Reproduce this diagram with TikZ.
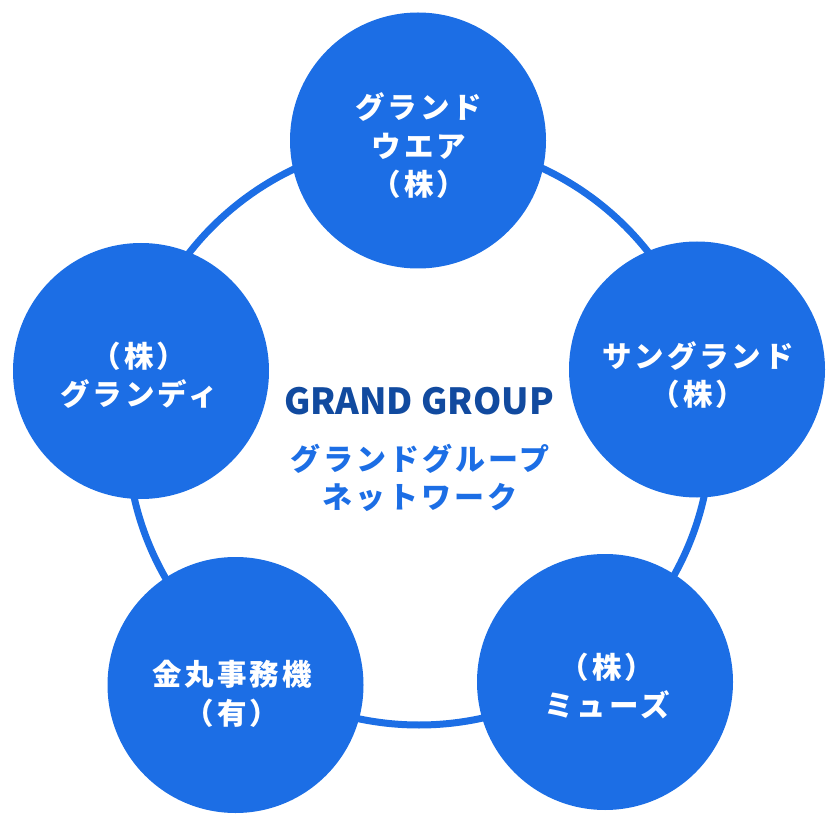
\documentclass[tikz,border=0pt]{standalone}
\usepackage{fontspec}
\newfontfamily\jp{Noto Sans CJK JP}[LetterSpace=10]
\newfontfamily\jpen{Noto Sans CJK JP}
\usetikzlibrary{calc}
\definecolor{cblue}{RGB}{28,110,229}
\definecolor{dblue}{RGB}{17,74,159}
\begin{document}
\begin{tikzpicture}[x=1pt,y=-1pt,
  comp/.style={circle,fill=cblue,draw=none,minimum size=256pt,inner sep=0pt},
  lbl/.style={text=white,align=center,font=\jp\bfseries\fontsize{29.5}{38.5}\selectfont,inner sep=0pt},
  ctr/.style={text=cblue,align=center,font=\jp\bfseries\fontsize{30}{38.5}\selectfont,inner sep=0pt},
  ring/.style={draw=cblue,line width=7pt}]
\useasboundingbox (0,0) rectangle (836,826);
\coordinate (o) at (419,433);
\draw[ring] (o) circle[radius=292];
\node[comp] (t) at (418,140.5) {};
\node[comp] (r) at (697,369.5) {};
\node[comp] (br) at (605,682) {};
\node[comp] (bl) at (235.5,685) {};
\node[comp] (l) at (141,371) {};
\node[lbl] (tt) at (419,146) {グランド\\ウエア\\（株）};
\node[lbl] (rt) at (698,375) {サングランド\\（株）};
\node[lbl] (brt) at (607,686) {（株）\\ミューズ};
\node[lbl] (blt) at (232,694) {金丸事務機\\（有）};
\node[lbl] (lt) at (139,375) {（株）\\グランディ};
\node[text=dblue,font=\jpen\bfseries\fontsize{36}{40}\selectfont,inner sep=0pt,anchor=base] (gg) at (419,415) {GRAND GROUP};
\node[ctr] (jt) at (420,478) {グランドグループ\\ネットワーク};
\end{tikzpicture}
\end{document}
